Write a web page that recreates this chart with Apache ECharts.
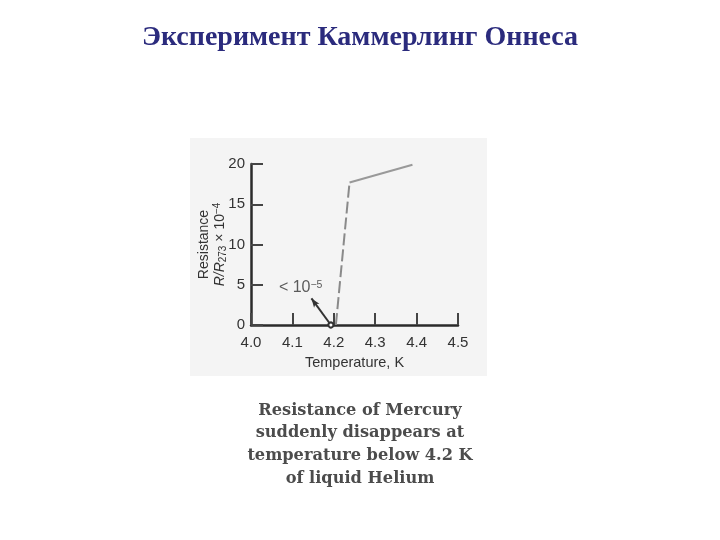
<!DOCTYPE html>
<html>
<head>
<meta charset="utf-8">
<script src="https://cdn.jsdelivr.net/npm/echarts@6/dist/echarts.min.js"></script>
<style>html,body{margin:0;padding:0;background:#fff;}#c{width:720px;height:540px;}</style>
</head>
<body>
<div id="c"></div>
<script>
// Data
const titleText = 'Эксперимент Каммерлинг Оннеса';
const captionLines = ['Resistance of Mercury', 'suddenly disappears at', 'temperature below 4.2 K', 'of liquid Helium'];
const xTicks = [4.0, 4.1, 4.2, 4.3, 4.4, 4.5];
const yTicks = [0, 5, 10, 15, 20];
// steep (dashed) transition segment
const transitionT = [4.205, 4.238];
const transitionR = [0, 17.7];
// normal-state (solid) segment
const normalT = [4.238, 4.39];
const normalR = [17.7, 19.9];
// arrow annotation "< 10^-5"
const arrowFrom = [4.193, 0];
const arrowTo = [4.146, 3.3];
const annotationPos = [4.12, 4.6];

const chart = echarts.init(document.getElementById('c'), null, {renderer: 'canvas'});
const axisColor = '#2a2a2a';
const labelFont = {fontFamily: 'Liberation Sans', fontSize: 15, color: '#333'};

chart.setOption({
  backgroundColor: '#ffffff',
  animation: false,
  title: [
    {
      text: titleText, left: 'center', top: 24, padding: 0,
      textStyle: {fontFamily: 'Liberation Serif', fontWeight: 'bold', fontSize: 28, color: '#2b2b7d'}
    },
    {
      text: captionLines.join('\n'), left: 'center', top: 399, padding: 0,
      textStyle: {fontFamily: 'DejaVu Serif', fontWeight: 'bold', fontSize: 16.2, lineHeight: 22.7, color: '#4c4c4c'}
    }
  ],
  graphic: [
    {type: 'rect', z: -10, shape: {x: 190, y: 138, width: 297, height: 238}, style: {fill: '#f4f4f4'}}
  ],
  grid: {left: 251, right: 262, top: 164, bottom: 215},
  xAxis: {
    type: 'value', min: xTicks[0], max: xTicks[xTicks.length - 1], interval: 0.1,
    name: 'Temperature, K', nameLocation: 'middle', nameGap: 30,
    nameTextStyle: {fontFamily: 'Liberation Sans', fontSize: 14.5, color: '#333'},
    axisLine: {lineStyle: {color: axisColor, width: 2.5}},
    axisTick: {inside: true, length: 12, lineStyle: {color: '#444', width: 2}},
    axisLabel: Object.assign({margin: 10, formatter: v => v.toFixed(1)}, labelFont),
    splitLine: {show: false}
  },
  yAxis: {
    type: 'value', min: yTicks[0], max: yTicks[yTicks.length - 1], interval: 5,
    name: '{a|Resistance}\n{i|R/R}{sub|273}{b| × 10}{sup|−4}',
    nameLocation: 'middle', nameRotate: 90, nameGap: 23, nameMoveOverlap: false,
    nameTextStyle: {
      fontFamily: 'Liberation Sans', fontSize: 14, color: '#333', lineHeight: 16,
      rich: {
        a: {fontFamily: 'Liberation Sans', fontSize: 14, color: '#333', lineHeight: 16},
        i: {fontFamily: 'Liberation Sans', fontSize: 14, fontStyle: 'italic', color: '#333', lineHeight: 16},
        b: {fontFamily: 'Liberation Sans', fontSize: 14, color: '#333', lineHeight: 16},
        sub: {fontFamily: 'Liberation Sans', fontSize: 10, color: '#333', verticalAlign: 'bottom', lineHeight: 16},
        sup: {fontFamily: 'Liberation Sans', fontSize: 10, color: '#333', verticalAlign: 'top', lineHeight: 16}
      }
    },
    axisLine: {lineStyle: {color: axisColor, width: 2.5}},
    axisTick: {inside: true, length: 12, lineStyle: {color: '#444', width: 2}},
    axisLabel: Object.assign({margin: 6}, labelFont),
    splitLine: {show: false}
  },
  series: [
    {
      type: 'line', symbol: 'none',
      data: transitionT.map((t, i) => [t, transitionR[i]]),
      lineStyle: {color: '#8a8a8a', width: 2, type: [12, 4]},
      markLine: {
        silent: true, symbol: ['emptyCircle', 'arrow'], symbolSize: [5, 9],
        label: {show: false},
        lineStyle: {color: '#333', width: 2, type: 'solid'},
        data: [[{coord: arrowFrom}, {coord: arrowTo}]]
      }
    },
    {
      type: 'line', symbol: 'none',
      data: normalT.map((t, i) => [t, normalR[i]]),
      lineStyle: {color: '#999', width: 2}
    },
    {
      type: 'scatter', symbolSize: 0,
      data: [annotationPos],
      label: {
        show: true, position: 'inside',
        formatter: '{b|< 10}{sup|−5}',
        rich: {
          b: {fontFamily: 'Liberation Sans', fontSize: 16, color: '#333'},
          sup: {fontFamily: 'Liberation Sans', fontSize: 10.5, color: '#333', verticalAlign: 'top'}
        }
      }
    }
  ]
});
</script>
</body>
</html>
